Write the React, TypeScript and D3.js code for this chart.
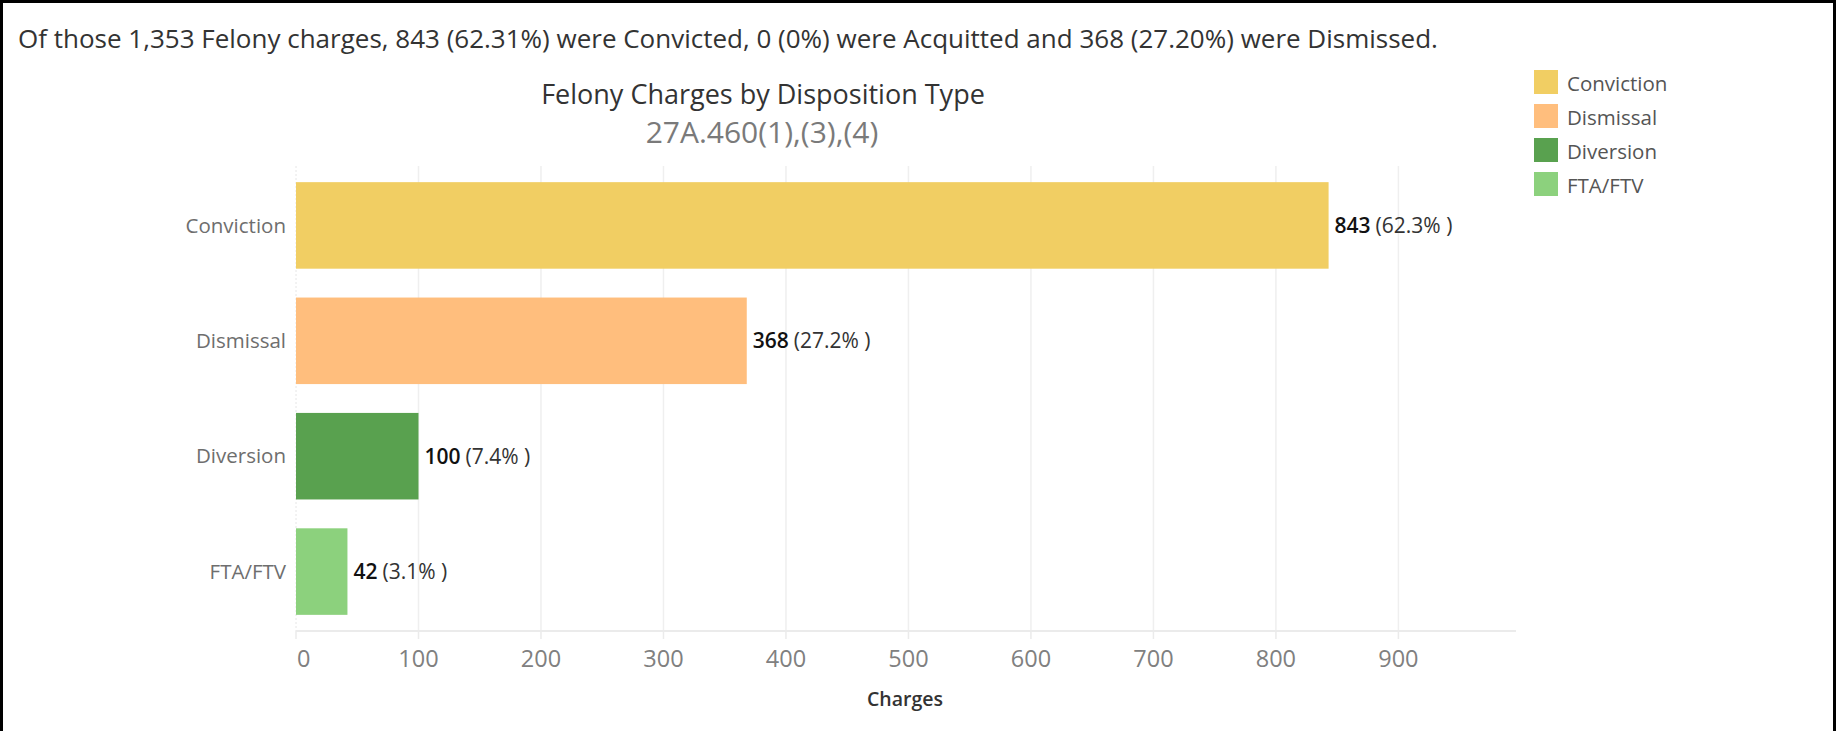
import React from "react";
import * as d3 from "d3";

const categories = ["Conviction", "Dismissal", "Diversion", "FTA/FTV"];
const values = [843, 368, 100, 42];
const percents = ["62.3%", "27.2%", "7.4%", "3.1%"];
const colors = ["#F1CE63", "#FFBE7D", "#59A14F", "#8CD17D"];
const ticks = [0, 100, 200, 300, 400, 500, 600, 700, 800, 900];
const headline =
  "Of those 1,353 Felony charges, 843 (62.31%) were Convicted, 0 (0%) were Acquitted and 368 (27.20%) were Dismissed.";
const title = "Felony Charges by Disposition Type";
const subtitle = "27A.460(1),(3),(4)";
const axisTitle = "Charges";

const W = 1843;
const H = 731;
const FONT = "'Open Sans', 'Noto Sans', sans-serif";

export default function App() {
  const x = d3.scaleLinear().domain([0, 996]).range([296, 1516]);
  const y = d3
    .scaleBand<string>()
    .domain(categories)
    .range([166, 631])
    .paddingInner(0.25)
    .paddingOuter(0.14);
  const plotTop = 166;
  const plotBottom = 631;

  return (
    <div style={{ position: "absolute", left: 0, top: 0 }}>
      <svg width={W} height={H} style={{ display: "block", fontFamily: FONT }}>
        <rect x={0} y={0} width={W} height={H} fill="#fff" />
        {/* frame */}
        <line x1={1.5} y1={0} x2={1.5} y2={H} stroke="#000" strokeWidth={3} />
        <line x1={0} y1={1.5} x2={1836} y2={1.5} stroke="#000" strokeWidth={3} />
        <line x1={1834.5} y1={0} x2={1834.5} y2={H} stroke="#000" strokeWidth={3} />

        <text x={18} y={48} fontSize={26} fill="#333">
          {headline}
        </text>
        <text x={763} y={104} fontSize={27} fill="#333" textAnchor="middle">
          {title}
        </text>
        <text x={762} y={143} fontSize={30} fill="#7a7a7a" textAnchor="middle">
          {subtitle}
        </text>

        {/* gridlines */}
        {ticks.map((t) =>
          t === 0 ? (
            <line
              key={t}
              x1={x(t)}
              x2={x(t)}
              y1={plotTop}
              y2={plotBottom}
              stroke="#e6e6e6"
              strokeDasharray="2,2"
            />
          ) : (
            <line
              key={t}
              x1={x(t)}
              x2={x(t)}
              y1={plotTop}
              y2={plotBottom}
              stroke="#efefef"
              strokeWidth={1.5}
            />
          )
        )}

        {/* bars */}
        {categories.map((c, i) => (
          <rect
            key={c}
            x={x(0)}
            y={y(c)}
            width={x(values[i]) - x(0)}
            height={y.bandwidth()}
            fill={colors[i]}
          />
        ))}

        {/* category labels */}
        {categories.map((c) => (
          <text
            key={c}
            x={286}
            y={(y(c) as number) + y.bandwidth() / 2}
            dy="0.35em"
            fontSize={20.5}
            fill="#6e6e6e"
            textAnchor="end"
          >
            {c}
          </text>
        ))}

        {/* value labels */}
        {categories.map((c, i) => (
          <text
            key={c}
            x={x(values[i]) + 6}
            y={(y(c) as number) + y.bandwidth() / 2}
            dy="0.35em"
            fontSize={21}
          >
            <tspan fontWeight={600} fill="#111">
              {values[i]}
            </tspan>
            <tspan fill="#333" dx={5}>{`(${percents[i]} )`}</tspan>
          </text>
        ))}

        {/* x axis */}
        <line x1={x(0)} x2={1516} y1={plotBottom} y2={plotBottom} stroke="#ebebeb" strokeWidth={2} />
        {ticks.map((t) => (
          <g key={t}>
            <line x1={x(t)} x2={x(t)} y1={plotBottom} y2={plotBottom + 8} stroke="#ebebeb" strokeWidth={1.5} />
            <text
              x={t === 0 ? x(t) + 1 : x(t)}
              y={667}
              fontSize={23.5}
              fill="#808080"
              textAnchor={t === 0 ? "start" : "middle"}
            >
              {t}
            </text>
          </g>
        ))}
        <text x={905} y={706} fontSize={19.5} fontWeight={600} fill="#333" textAnchor="middle">
          {axisTitle}
        </text>

        {/* legend */}
        {categories.map((c, i) => (
          <g key={c} transform={`translate(1534, ${70 + i * 34})`}>
            <rect x={0} y={0} width={24} height={24} fill={colors[i]} />
            <text x={33} y={13.5} dy="0.35em" fontSize={20.5} fill="#555">
              {c}
            </text>
          </g>
        ))}
      </svg>
    </div>
  );
}
